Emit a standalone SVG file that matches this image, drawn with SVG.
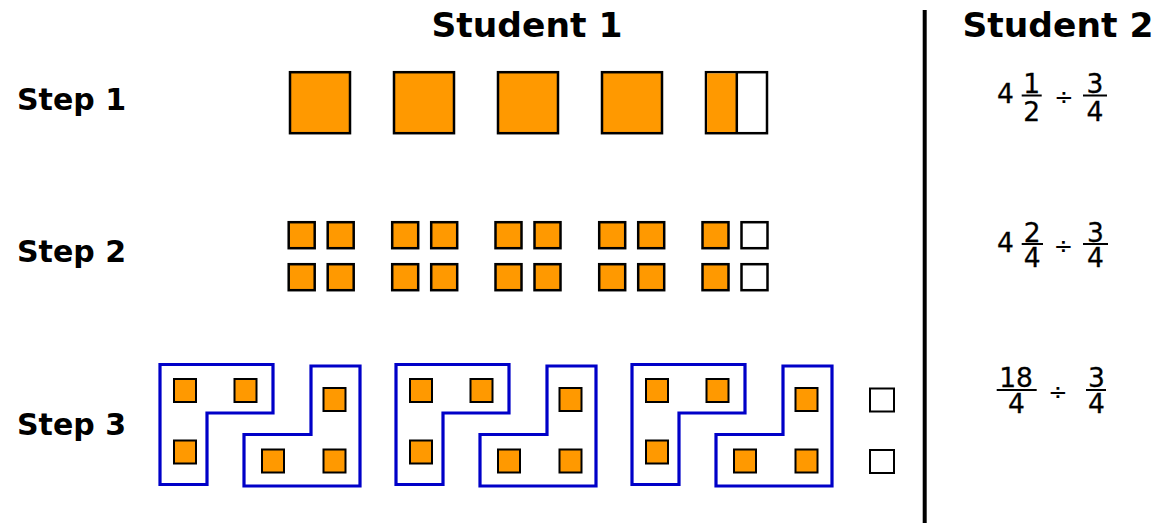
<svg xmlns="http://www.w3.org/2000/svg" width="1161" height="523" viewBox="0 0 1161 523">
<defs>
<style>
.title{font-family:"DejaVu Sans",Verdana,sans-serif;font-weight:bold;font-size:34.5px;fill:#000;text-anchor:middle}
.step{font-family:"DejaVu Sans",Verdana,sans-serif;font-weight:bold;font-size:30px;fill:#000}
.m{font-family:"DejaVu Sans",Verdana,sans-serif;font-size:26.5px;fill:#000;stroke:#000;stroke-width:0.3;text-anchor:middle}
.dv{font-family:"DejaVu Sans",Verdana,sans-serif;font-size:23px;fill:#000;text-anchor:middle}
.bar{stroke:#000;stroke-width:2}
.big{fill:#FF9900;stroke:#000;stroke-width:2.5}
.sm{fill:#FF9900;stroke:#000;stroke-width:2.5}
.wh{fill:#fff;stroke:#000;stroke-width:2.5}
.tiny{fill:#FF9900;stroke:#000;stroke-width:2}
.tinyw{fill:#fff;stroke:#000;stroke-width:2}
.lshape{fill:none;stroke:#0000C8;stroke-width:3.2}
</style>
</defs>
<rect width="1161" height="523" fill="#fff"/>

<g id="headers">
<text class="title" x="527" y="37">Student 1</text>
<text class="title" x="1058" y="37">Student 2</text>
</g>
<g id="divider">
<line x1="924.7" y1="10" x2="924.7" y2="523" stroke="#000" stroke-width="4"/>
</g>

<g id="step-labels">
<text class="step" x="17" y="110">Step 1</text>
<text class="step" x="17" y="262">Step 2</text>
<text class="step" x="17" y="435">Step 3</text>
</g>

<g id="step1">
<rect class="big" x="290" y="72.2" width="60" height="61"/>
<rect class="big" x="394" y="72.2" width="60" height="61"/>
<rect class="big" x="498" y="72.2" width="60" height="61"/>
<rect class="big" x="602" y="72.2" width="60" height="61"/>
<rect class="wh" x="706" y="72.2" width="61" height="61"/>
<rect x="707.2" y="73.4" width="29.5" height="58.6" fill="#FF9900"/>
<line x1="736.8" y1="72.2" x2="736.8" y2="133.2" stroke="#000" stroke-width="2.5"/>
</g>

<g id="step2">
<rect class="sm" x="288.7" y="222.2" width="26" height="26"/>
<rect class="sm" x="327.7" y="222.2" width="26" height="26"/>
<rect class="sm" x="288.7" y="264.2" width="26" height="26"/>
<rect class="sm" x="327.7" y="264.2" width="26" height="26"/>

<rect class="sm" x="392.2" y="222.2" width="26" height="26"/>
<rect class="sm" x="431.2" y="222.2" width="26" height="26"/>
<rect class="sm" x="392.2" y="264.2" width="26" height="26"/>
<rect class="sm" x="431.2" y="264.2" width="26" height="26"/>

<rect class="sm" x="495.5" y="222.2" width="26" height="26"/>
<rect class="sm" x="534.5" y="222.2" width="26" height="26"/>
<rect class="sm" x="495.5" y="264.2" width="26" height="26"/>
<rect class="sm" x="534.5" y="264.2" width="26" height="26"/>

<rect class="sm" x="599.2" y="222.2" width="26" height="26"/>
<rect class="sm" x="638.2" y="222.2" width="26" height="26"/>
<rect class="sm" x="599.2" y="264.2" width="26" height="26"/>
<rect class="sm" x="638.2" y="264.2" width="26" height="26"/>

<rect class="sm" x="702.5" y="222.2" width="26" height="26"/>
<rect class="wh" x="741.5" y="222.2" width="26" height="26"/>
<rect class="sm" x="702.5" y="264.2" width="26" height="26"/>
<rect class="wh" x="741.5" y="264.2" width="26" height="26"/>
</g>

<g id="step3-group1">
<polygon class="lshape" points="160,364.5 273,364.5 273,413 207,413 207,484.5 160,484.5"/>
<rect class="tiny" x="174" y="379" width="22" height="23"/>
<rect class="tiny" x="234.5" y="379" width="22" height="23"/>
<rect class="tiny" x="174" y="440.5" width="22" height="23"/>
<polygon class="lshape" points="311,366 360,366 360,486 244,486 244,434.5 311,434.5"/>
<rect class="tiny" x="323.5" y="388" width="22" height="23"/>
<rect class="tiny" x="262" y="449.5" width="22" height="23"/>
<rect class="tiny" x="323.5" y="449.5" width="22" height="23"/>
</g>

<g id="step3-group2" transform="translate(236,0)">
<polygon class="lshape" points="160,364.5 273,364.5 273,413 207,413 207,484.5 160,484.5"/>
<rect class="tiny" x="174" y="379" width="22" height="23"/>
<rect class="tiny" x="234.5" y="379" width="22" height="23"/>
<rect class="tiny" x="174" y="440.5" width="22" height="23"/>
<polygon class="lshape" points="311,366 360,366 360,486 244,486 244,434.5 311,434.5"/>
<rect class="tiny" x="323.5" y="388" width="22" height="23"/>
<rect class="tiny" x="262" y="449.5" width="22" height="23"/>
<rect class="tiny" x="323.5" y="449.5" width="22" height="23"/>
</g>

<g id="step3-group3" transform="translate(472,0)">
<polygon class="lshape" points="160,364.5 273,364.5 273,413 207,413 207,484.5 160,484.5"/>
<rect class="tiny" x="174" y="379" width="22" height="23"/>
<rect class="tiny" x="234.5" y="379" width="22" height="23"/>
<rect class="tiny" x="174" y="440.5" width="22" height="23"/>
<polygon class="lshape" points="311,366 360,366 360,486 244,486 244,434.5 311,434.5"/>
<rect class="tiny" x="323.5" y="388" width="22" height="23"/>
<rect class="tiny" x="262" y="449.5" width="22" height="23"/>
<rect class="tiny" x="323.5" y="449.5" width="22" height="23"/>
</g>

<g id="step3-leftover">
<rect class="tinyw" x="870" y="388.5" width="24" height="23"/>
<rect class="tinyw" x="870" y="450" width="24" height="23"/>
</g>

<g id="expr1">
<text class="m" x="1005.5" y="103">4</text>
<text class="m" x="1031.7" y="93">1</text>
<line class="bar" x1="1021.7" y1="95.5" x2="1041.7" y2="95.5"/>
<text class="m" x="1031.7" y="120.5">2</text>
<text class="dv" x="1064" y="105">÷</text>
<text class="m" x="1095" y="93">3</text>
<line class="bar" x1="1083" y1="95.5" x2="1107" y2="95.5"/>
<text class="m" x="1095" y="120.5">4</text>
</g>

<g id="expr2">
<text class="m" x="1005.5" y="251.5">4</text>
<text class="m" x="1032.3" y="241.5">2</text>
<line class="bar" x1="1021.7" y1="244" x2="1043" y2="244"/>
<text class="m" x="1032.3" y="266.5">4</text>
<text class="dv" x="1063.5" y="253.5">÷</text>
<text class="m" x="1095.5" y="241.5">3</text>
<line class="bar" x1="1083" y1="244" x2="1108" y2="244"/>
<text class="m" x="1095.5" y="266.5">4</text>
</g>

<g id="expr3">
<text class="m" x="1016" y="386.5">18</text>
<line class="bar" x1="996.7" y1="390" x2="1036.7" y2="390"/>
<text class="m" x="1016.5" y="413">4</text>
<text class="dv" x="1058" y="399.5">÷</text>
<text class="m" x="1096.5" y="386.5">3</text>
<line class="bar" x1="1086" y1="390" x2="1106" y2="390"/>
<text class="m" x="1096.5" y="413">4</text>
</g>
</svg>
